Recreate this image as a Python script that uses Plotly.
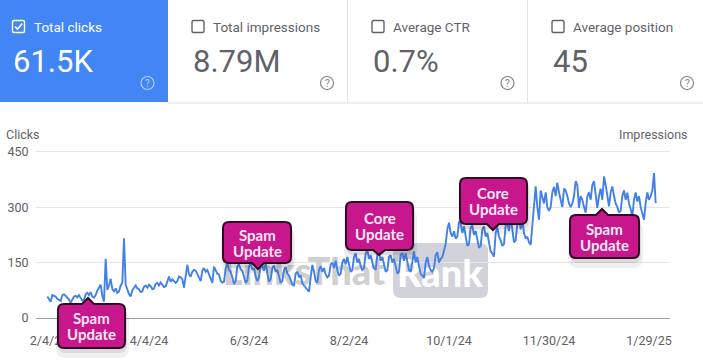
import plotly.graph_objects as go
import pandas as pd

# ---------------- data ----------------
start_date = "2024-02-03"
clicks = [
    58, 50, 44, 62, 60, 58, 52,
    48, 46, 62, 64, 60, 55, 50,
    41, 48, 58, 60, 56, 62, 52,
    47, 50, 64, 68, 62, 70, 58,
    55, 62, 74, 82, 90, 60, 44,
    160, 76, 88, 106, 78, 72, 80,
    68, 72, 88, 95, 216, 90, 75,
    65, 58, 75, 82, 88, 80, 78,
    70, 72, 85, 88, 82, 90, 86,
    78, 80, 92, 95, 88, 96, 90,
    84, 86, 100, 112, 98, 105, 100,
    95, 100, 112, 110, 105, 82, 120,
    144, 118, 112, 125, 130, 128, 120,
    110, 100, 128, 135, 125, 130, 118,
    105, 95, 139, 130, 120, 118, 100,
    96, 98, 135, 148, 130, 125, 110,
    92, 100, 140, 145, 132, 128, 108,
    95, 102, 138, 150, 130, 135, 112,
    100, 110, 145, 140, 128, 150, 120,
    98, 105, 135, 142, 125, 130, 110,
    95, 100, 130, 138, 120, 115, 100,
    90, 88, 120, 125, 110, 115, 95,
    88, 82, 76, 71, 110, 144, 125,
    100, 95, 130, 140, 125, 135, 118,
    110, 115, 145, 150, 135, 155, 130,
    115, 120, 150, 160, 145, 165, 140,
    125, 130, 165, 175, 150, 160, 140,
    130, 135, 175, 184, 160, 170, 150,
    135, 130, 170, 178, 155, 165, 145,
    125, 130, 165, 170, 150, 160, 140,
    120, 125, 170, 176, 155, 175, 150,
    130, 125, 160, 180, 150, 165, 140,
    120, 115, 108, 150, 165, 140, 130,
    125, 135, 170, 178, 150, 160, 165,
    185, 200, 240, 258, 230, 220, 235,
    215, 220, 261, 255, 230, 248, 225,
    195, 200, 245, 250, 225, 235, 210,
    190, 195, 240, 248, 220, 230, 205,
    180, 175, 166, 230, 245, 220, 210,
    195, 200, 250, 260, 235, 275, 240,
    205, 210, 255, 270, 240, 265, 230,
    215, 220, 205, 198, 250, 300, 356,
    300, 266, 345, 330, 310, 340, 300,
    290, 300, 340, 355, 330, 366, 340,
    320, 300, 350, 345, 330, 310, 300,
    310, 330, 370, 360, 298, 330, 320,
    300, 285, 329, 340, 320, 360, 370,
    340, 298, 330, 350, 320, 383, 360,
    330, 302, 340, 356, 330, 310, 300,
    285, 290, 330, 345, 320, 339, 310,
    295, 275, 320, 340, 315, 330, 300,
    280, 266, 310, 340, 320, 330, 345,
    392, 311,
]
tick_dates = ["2024-02-04", "2024-04-04", "2024-06-03", "2024-08-02",
              "2024-10-01", "2024-11-30", "2025-01-29"]
tick_labels = ["2/4/24", "4/4/24", "6/3/24", "8/2/24", "10/1/24", "11/30/24", "1/29/25"]
y_ticks = [0, 150, 300, 450]

card_titles = ["Total clicks", "Total impressions", "Average CTR", "Average position"]
card_values = ["61.5K", "8.79M", "0.7%", "45"]

update_labels = [("Spam", "Update"), ("Spam", "Update"), ("Core", "Update"),
                 ("Core", "Update"), ("Spam", "Update")]

# ---------------- geometry ----------------
W, H = 703, 360
L, R, T, B = 36, 33, 148, 42
PW, PH = W - L - R, H - T - B
YMAX = 460
DPP = 0.6  # days per pixel

x_start = pd.Timestamp("2024-02-04") - pd.Timedelta(days=(49 - L) * DPP)
x_end = x_start + pd.Timedelta(days=PW * DPP)
dates = pd.date_range(start_date, periods=len(clicks), freq="D")


def px(X):
    return (X - L) / PW


def py(Y):
    return (H - B - Y) / PH


def pt(X, Y):
    return f"{px(X):.5f},{py(Y):.5f}"


def xdate(X):
    return x_start + pd.Timedelta(days=(X - L) * DPP)


def yval(Y):
    return (H - B - Y) / PH * YMAX


def rrect(x0, y0, x1, y1, r):
    return (f"M{pt(x0 + r, y0)} L{pt(x1 - r, y0)} Q{pt(x1, y0)} {pt(x1, y0 + r)} "
            f"L{pt(x1, y1 - r)} Q{pt(x1, y1)} {pt(x1 - r, y1)} L{pt(x0 + r, y1)} "
            f"Q{pt(x0, y1)} {pt(x0, y1 - r)} L{pt(x0, y0 + r)} Q{pt(x0, y0)} {pt(x0 + r, y0)} Z")


def callout(x0, y0, x1, y1, tx, ty, r=6, hw=6):
    p = f"M{pt(x0 + r, y0)} "
    if ty < y0:
        p += f"L{pt(tx - hw, y0)} L{pt(tx, ty)} L{pt(tx + hw, y0)} "
    p += f"L{pt(x1 - r, y0)} Q{pt(x1, y0)} {pt(x1, y0 + r)} L{pt(x1, y1 - r)} Q{pt(x1, y1)} {pt(x1 - r, y1)} "
    if ty > y1:
        p += f"L{pt(tx + hw, y1)} L{pt(tx, ty)} L{pt(tx - hw, y1)} "
    p += f"L{pt(x0 + r, y1)} Q{pt(x0, y1)} {pt(x0, y1 - r)} L{pt(x0, y0 + r)} Q{pt(x0, y0)} {pt(x0 + r, y0)} Z"
    return p


fig = go.Figure()

# watermark (beneath the line)
fig.add_trace(go.Scatter(
    x=[xdate(304), xdate(440)], y=[yval(275), yval(277)],
    mode="text", text=["LinksThat", "Rank"],
    textfont=dict(family="Lato", size=38, color=["#cfcfcf", "#ffffff"], weight=900),
    hoverinfo="skip", showlegend=False))

fig.add_trace(go.Scatter(
    x=dates, y=clicks, mode="lines",
    line=dict(color="#4281e8", width=1.9),
    showlegend=False, hovertemplate="%{x|%b %d, %Y}: %{y}<extra></extra>"))

shapes = []
annotations = []

# watermark box
shapes.append(dict(type="path", xref="paper", yref="paper", path=rrect(393, 243, 488, 298, 8),
                   fillcolor="#d1d2da", line=dict(width=0), layer="below"))

# ---------------- cards ----------------
shapes.append(dict(type="rect", xref="paper", yref="paper", x0=px(0), x1=px(168), y0=py(102), y1=py(0),
                   fillcolor="#4285f4", line=dict(width=0)))
shapes.append(dict(type="line", xref="paper", yref="paper", x0=px(168), x1=px(703), y0=py(103), y1=py(103),
                   line=dict(color="#dadce0", width=1)))
for xd in (347.5, 527.5):
    shapes.append(dict(type="line", xref="paper", yref="paper", x0=px(xd), x1=px(xd), y0=py(0), y1=py(103),
                       line=dict(color="#e3e3e3", width=1)))

card_x = [12.5, 192, 372, 552]
help_x = [147.5, 327, 507.5, 687]
for i, (title, val) in enumerate(zip(card_titles, card_values)):
    cx = card_x[i]
    sel = i == 0
    col = "#ffffff" if sel else "#5f6368"
    shapes.append(dict(type="path", xref="paper", yref="paper", path=rrect(cx, 20.5, cx + 12, 32.5, 1.5),
                       line=dict(color=col, width=1.4), fillcolor="rgba(0,0,0,0)"))
    if sel:
        shapes.append(dict(type="path", xref="paper", yref="paper",
                           path=f"M{pt(cx + 2.5, 26.5)} L{pt(cx + 5, 29)} L{pt(cx + 9.8, 23.6)}",
                           line=dict(color="#ffffff", width=1.6)))
    annotations.append(dict(xref="paper", yref="paper", x=px(cx + 19), y=py(26.5), text=title,
                            showarrow=False, xanchor="left", yanchor="middle",
                            font=dict(family="Roboto", size=13.5, color=col)))
    annotations.append(dict(xref="paper", yref="paper", x=px(cx - 1.5), y=py(61), text=val,
                            showarrow=False, xanchor="left", yanchor="middle",
                            font=dict(family="Roboto", size=31, color=col)))
    hc = "rgba(255,255,255,0.6)" if sel else "#80868b"
    hx = help_x[i]
    shapes.append(dict(type="circle", xref="paper", yref="paper", x0=px(hx - 6.5), x1=px(hx + 6.5),
                       y0=py(89.5), y1=py(76.5), line=dict(color=hc, width=1.2)))
    annotations.append(dict(xref="paper", yref="paper", x=px(hx), y=py(83), text="?",
                            showarrow=False, xanchor="center", yanchor="middle",
                            font=dict(family="Roboto", size=10, color=hc)))

# axis titles
annotations.append(dict(xref="paper", yref="paper", x=px(4), y=py(134), text="Clicks", showarrow=False,
                        xanchor="left", yanchor="middle", font=dict(family="Roboto", size=12.5, color="#5f6368")))
annotations.append(dict(xref="paper", yref="paper", x=px(690), y=py(134), text="Impressions", showarrow=False,
                        xanchor="right", yanchor="middle", font=dict(family="Roboto", size=12.5, color="#5f6368")))

# ---------------- update callouts ----------------
boxes = [
    (58, 304, 125, 348, 88, 298),
    (223, 222, 291, 263, 258, 269),
    (346, 202, 413, 250, 379, 255),
    (460, 178, 527, 224, 493, 230),
    (570, 215, 639, 258, 602, 209),
]
for (x0, y0, x1, y1, tx, ty), (l1, l2) in zip(boxes, update_labels):
    shapes.append(dict(type="path", xref="paper", yref="paper",
                       path=rrect(x0 - 2, y0 + 6, x1 + 4, y1 + 10, 10),
                       fillcolor="rgba(40,40,60,0.07)", line=dict(width=0)))
    shapes.append(dict(type="path", xref="paper", yref="paper",
                       path=rrect(x0, y0 + 3, x1 + 2, y1 + 5, 8),
                       fillcolor="rgba(40,40,60,0.10)", line=dict(width=0)))
    shapes.append(dict(type="path", xref="paper", yref="paper", path=callout(x0, y0, x1, y1, tx, ty),
                       fillcolor="#c8168c", line=dict(color="#2e0a22", width=2)))
    cxm = (x0 + x1) / 2
    cym = (y0 + y1) / 2
    for txt, dy in ((l1, -8), (l2, 8)):
        annotations.append(dict(xref="paper", yref="paper", x=px(cxm), y=py(cym + dy), text=txt,
                                showarrow=False, xanchor="center", yanchor="middle",
                                font=dict(family="Lato", size=15, color="#fde9f5", weight="bold")))

fig.update_layout(
    template="none",
    width=W, height=H,
    margin=dict(l=L, r=R, t=T, b=B, pad=0),
    paper_bgcolor="white", plot_bgcolor="white",
    shapes=shapes, annotations=annotations,
    xaxis=dict(type="date", range=[x_start, x_end], tickvals=pd.to_datetime(tick_dates), ticktext=tick_labels,
               showgrid=False, zeroline=False, showline=True, linecolor="#9e9e9e", linewidth=1,
               ticks="outside", ticklen=11, tickcolor="rgba(0,0,0,0)", automargin=False,
               tickfont=dict(family="Roboto", size=12.5, color="#616161")),
    yaxis=dict(range=[0, YMAX], tickvals=y_ticks, showgrid=True, gridcolor="#e6e6e6", gridwidth=1,
               zeroline=False, showline=False, ticks="outside", ticklen=4, tickcolor="rgba(0,0,0,0)",
               automargin=False, tickfont=dict(family="Roboto", size=12.5, color="#616161")),
    showlegend=False,
)

fig.write_html("out.html", config={"displayModeBar": False},
               post_script="document.body.style.margin='0';document.body.style.padding='0';"
                           "document.body.style.overflow='hidden';")
